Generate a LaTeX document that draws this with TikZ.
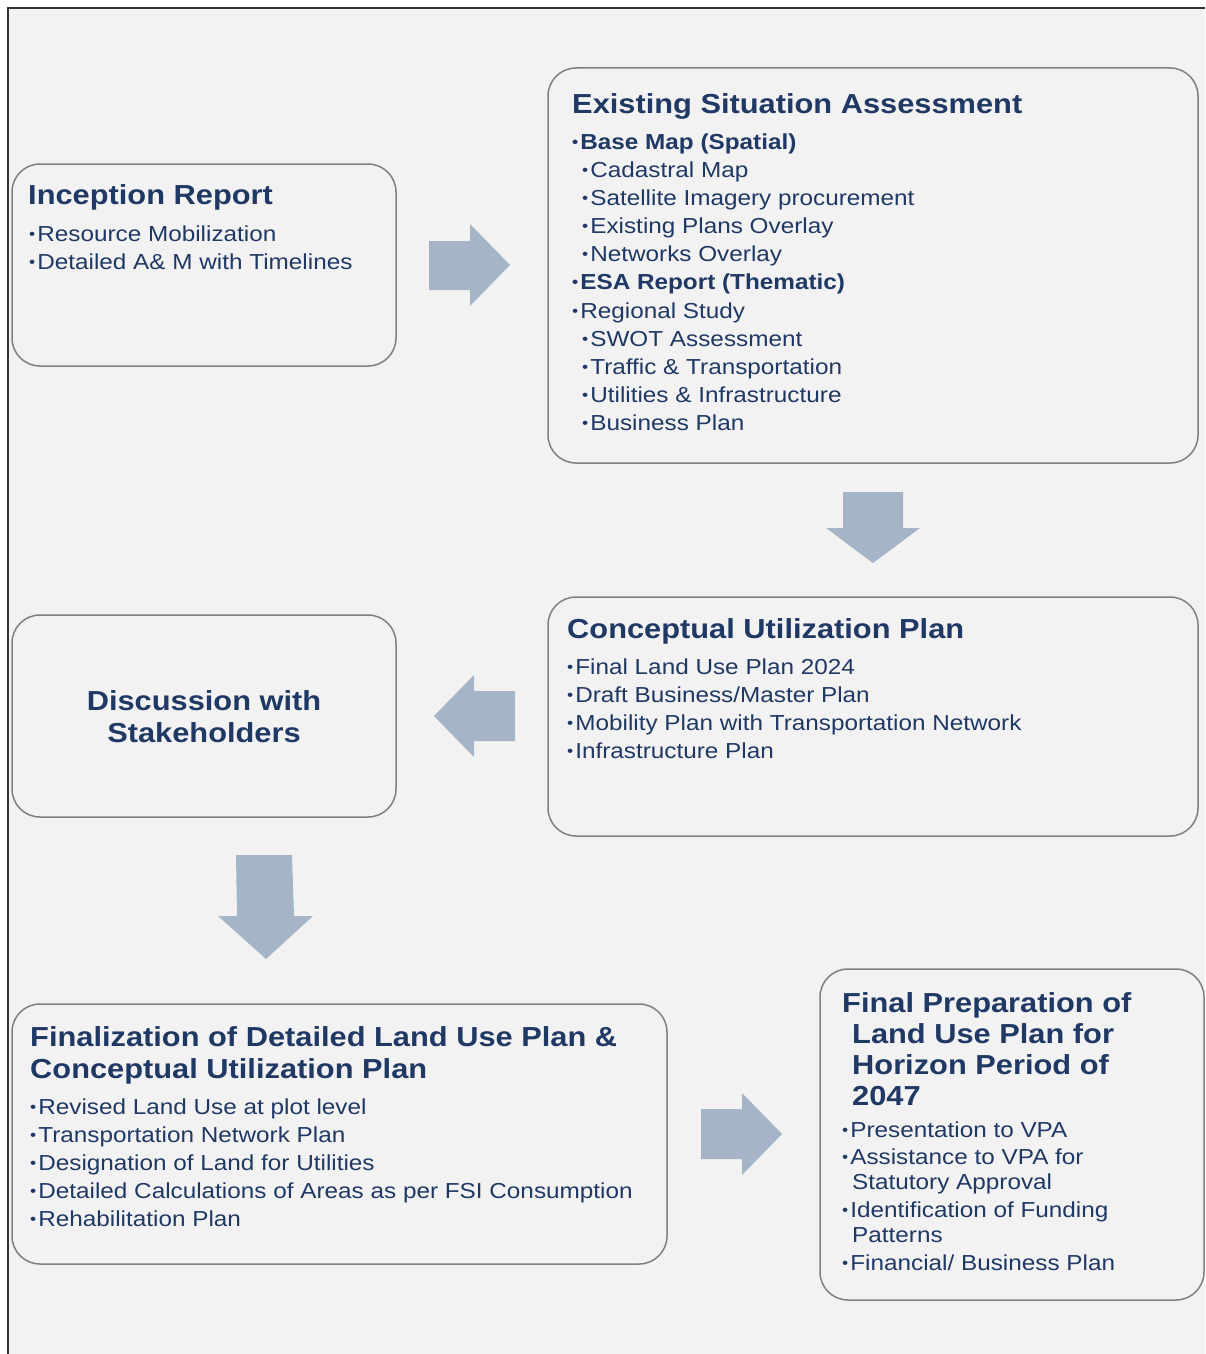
\documentclass[tikz,border=0pt]{standalone}
\usepackage{graphicx}
\usepackage{fontspec}
\setmainfont{Liberation Sans}[FakeStretch=1.12]
\usetikzlibrary{fit}
\definecolor{navy}{HTML}{1F3864}
\definecolor{arrowfill}{HTML}{A6B4C8}
\definecolor{boxline}{HTML}{808080}
\definecolor{bg}{HTML}{F2F2F2}
\newcommand\ttlfont{\fontsize{27.5}{31}\selectfont\bfseries}
\newcommand\itmfont{\fontsize{21.7}{28}\selectfont}
\newcommand\bul{\raisebox{1.6pt}{\scalebox{0.72}{•}}\hspace{2pt}}
\tikzset{
  box/.style={draw=boxline, line width=1.5pt, rounded corners=28pt, inner sep=0pt, fill=bg},
  ttl/.style={anchor=base west, inner sep=0pt, text=navy, font=\ttlfont},
  ttlc/.style={anchor=base, inner sep=0pt, text=navy, font=\ttlfont},
  itm/.style={anchor=base west, inner sep=0pt, text=navy, font=\itmfont},
  itmb/.style={anchor=base west, inner sep=0pt, text=navy, font=\itmfont\bfseries},
  blockarrow/.style={fill=arrowfill, draw=none}
}
\begin{document}
\begin{tikzpicture}[x=1pt, y=-1pt]
\useasboundingbox (0,0) rectangle (1205,1354);
\fill[white] (0,0) rectangle (1205,1354);
\fill[bg] (8,8) rectangle (1205,1354);
\draw[line width=2pt, black!80] (8,1354) -- (8,8) -- (1205,8);

% boxes
\node[box, fit={(12,164) (396,366)}] (inc) {};
\node[box, fit={(548,68) (1198,463)}] (esa) {};
\node[box, fit={(548,597) (1198,836)}] (cup) {};
\node[box, fit={(12,615) (396,817)}] (disc) {};
\node[box, fit={(12,1004) (667,1264)}] (fin) {};
\node[box, fit={(820,969) (1204,1300)}] (prep) {};

% block arrows
\fill[blockarrow] (429,241) -- (470,241) -- (470,224) -- (510,265) -- (470,306) -- (470,290) -- (429,290) -- cycle;
\fill[blockarrow] (843,492) -- (903,492) -- (903,528) -- (920,528) -- (873,563) -- (826,528) -- (843,528) -- cycle;
\fill[blockarrow] (515,691) -- (474,691) -- (474,675) -- (434,716) -- (474,757) -- (474,741) -- (515,741) -- cycle;
\fill[blockarrow] (236,855) -- (292,855) -- (294,916) -- (313,916) -- (266,959) -- (218,916) -- (237,916) -- cycle;
\fill[blockarrow] (701,1109) -- (742,1109) -- (742,1093) -- (782,1134) -- (742,1175) -- (742,1159) -- (701,1159) -- cycle;

% Inception Report
\node[ttl] (inc-t) at (28,204) {Inception Report};
\node[itm] (inc-1) at (29,241) {\bul Resource Mobilization};
\node[itm] (inc-2) at (29,269) {\bul Detailed A\& M with Timelines};

% Existing Situation Assessment
\node[ttl] (esa-t) at (572,113) {Existing Situation Assessment};
\node[itmb] (esa-1) at (572,149) {\bul Base Map (Spatial)};
\node[itm] (esa-2) at (582,177) {\bul Cadastral Map};
\node[itm] (esa-3) at (582,205) {\bul Satellite Imagery procurement};
\node[itm] (esa-4) at (582,233) {\bul Existing Plans Overlay};
\node[itm] (esa-5) at (582,261) {\bul Networks Overlay};
\node[itmb] (esa-6) at (572,289) {\bul ESA Report (Thematic)};
\node[itm] (esa-7) at (572,318) {\bul Regional Study};
\node[itm] (esa-8) at (582,346) {\bul SWOT Assessment};
\node[itm] (esa-9) at (582,374) {\bul Traffic \& Transportation};
\node[itm] (esa-10) at (582,402) {\bul Utilities \& Infrastructure};
\node[itm] (esa-11) at (582,430) {\bul Business Plan};

% Conceptual Utilization Plan
\node[ttl] (cup-t) at (567,638) {Conceptual Utilization Plan};
\node[itm] (cup-1) at (567,674) {\bul Final Land Use Plan 2024};
\node[itm] (cup-2) at (567,702) {\bul Draft Business/Master Plan};
\node[itm] (cup-3) at (567,730) {\bul Mobility Plan with Transportation Network};
\node[itm] (cup-4) at (567,758) {\bul Infrastructure Plan};

% Discussion with Stakeholders
\node[ttlc] (disc-1) at (204,710) {Discussion with};
\node[ttlc] (disc-2) at (204,742) {Stakeholders};

% Finalization
\node[ttl] (fin-t1) at (30,1046) {Finalization of Detailed Land Use Plan \&};
\node[ttl] (fin-t2) at (30,1078) {Conceptual Utilization Plan};
\node[itm] (fin-1) at (30,1114) {\bul Revised Land Use at plot level};
\node[itm] (fin-2) at (30,1142) {\bul Transportation Network Plan};
\node[itm] (fin-3) at (30,1170) {\bul Designation of Land for Utilities};
\node[itm] (fin-4) at (30,1198) {\bul Detailed Calculations of Areas as per FSI Consumption};
\node[itm] (fin-5) at (30,1226) {\bul Rehabilitation Plan};

% Final Preparation
\node[ttl] (prep-t1) at (842,1012) {Final Preparation of};
\node[ttl] (prep-t2) at (852,1043) {Land Use Plan for};
\node[ttl] (prep-t3) at (852,1074) {Horizon Period of};
\node[ttl] (prep-t4) at (852,1105) {2047};
\node[itm] (prep-1) at (842,1137) {\bul Presentation to VPA};
\node[itm] (prep-2) at (842,1164) {\bul Assistance to VPA for};
\node[itm] (prep-2b) at (852,1189) {Statutory Approval};
\node[itm] (prep-3) at (842,1217) {\bul Identification of Funding};
\node[itm] (prep-3b) at (852,1242) {Patterns};
\node[itm] (prep-4) at (842,1270) {\bul Financial/ Business Plan};
\end{tikzpicture}
\end{document}
